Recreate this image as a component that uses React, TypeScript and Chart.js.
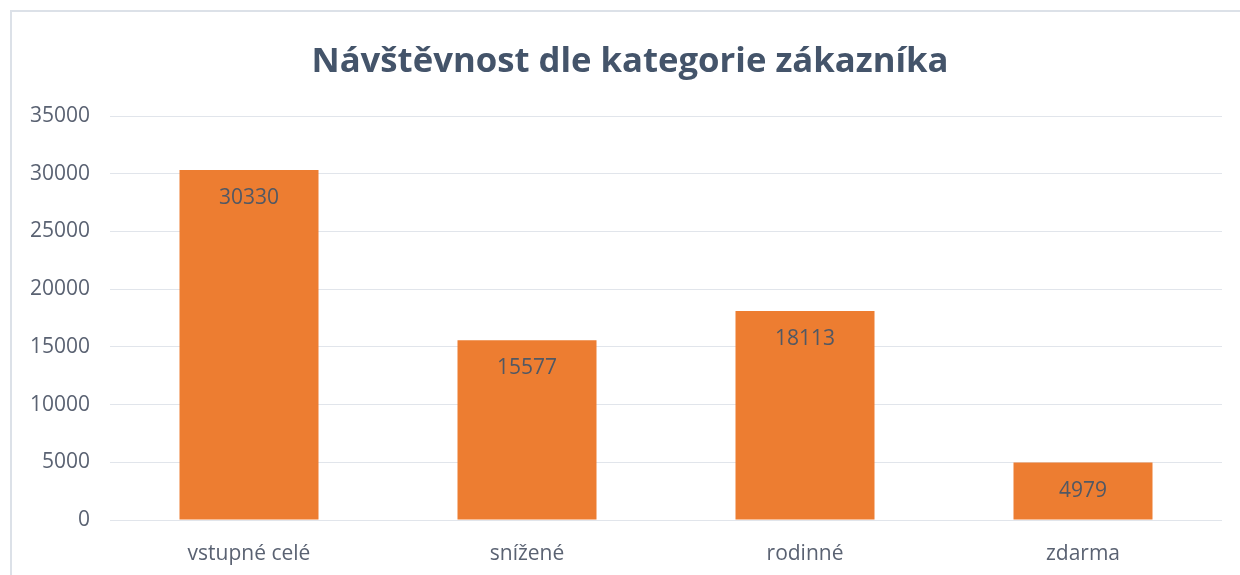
import React, { useEffect, useRef } from "react";
import { Chart, registerables } from "chart.js";

Chart.register(...registerables);

const categories = ["vstupné celé", "snížené", "rodinné", "zdarma"];
const visits = [30330, 15577, 18113, 4979];
const titleText = "Návštěvnost dle kategorie zákazníka";

const FONT = "'Open Sans', Lato, sans-serif";

const barLabels = {
  id: "barLabels",
  afterDatasetsDraw(chart: any) {
    const ctx = chart.ctx;
    const meta = chart.getDatasetMeta(0);
    ctx.save();
    ctx.font = `21px ${FONT}`;
    ctx.fillStyle = "#515864";
    ctx.textAlign = "center";
    ctx.textBaseline = "middle";
    meta.data.forEach((bar: any, i: number) => {
      ctx.fillText(String(chart.data.datasets[0].data[i]), bar.x, bar.y + 28);
    });
    ctx.restore();
  },
};

const titleDraw = {
  id: "titleDraw",
  afterDraw(chart: any) {
    const ctx = chart.ctx;
    ctx.save();
    ctx.font = `bold 34.7px ${FONT}`;
    ctx.fillStyle = "#44546A";
    ctx.textAlign = "center";
    ctx.textBaseline = "alphabetic";
    ctx.fillText(titleText, 630, 72);
    ctx.restore();
  },
};

export default function App() {
  const ref = useRef<HTMLCanvasElement>(null);
  useEffect(() => {
    const chart = new Chart(ref.current!, {
      type: "bar",
      data: {
        labels: categories,
        datasets: [
          {
            data: visits,
            backgroundColor: "#ED7D31",
            borderWidth: 0,
            categoryPercentage: 1,
            barPercentage: 0.5,
          },
        ],
      },
      options: {
        animation: false,
        responsive: false,
        layout: { padding: { left: 0, right: 18, top: 116, bottom: 0 } },
        plugins: {
          legend: { display: false },
          tooltip: { enabled: false },
          title: { display: false },
        },
        scales: {
          x: {
            grid: { display: false, drawTicks: false },
            border: { display: false },
            ticks: {
              color: "#5A6272",
              font: { family: FONT, size: 21 },
              padding: 21,
            },
            afterFit: (s: any) => {
              s.height = 55;
            },
          },
          y: {
            min: 0,
            max: 35000,
            grid: { color: "#E1E5EB", lineWidth: 1, drawTicks: false },
            border: { display: false },
            ticks: {
              stepSize: 5000,
              color: "#5A6272",
              font: { family: FONT, size: 21 },
              padding: 20,
              callback: (v: any) => String(v),
            },
            afterFit: (s: any) => {
              s.width = 110;
            },
          },
        },
      },
      plugins: [barLabels, titleDraw],
    });
    return () => chart.destroy();
  }, []);

  return (
    <div
      style={{
        position: "fixed",
        left: 0,
        top: 0,
        width: 1240,
        height: 575,
        overflow: "hidden",
        background: "#fff",
      }}
    >
      <div
        style={{
          position: "absolute",
          left: 10,
          top: 10,
          width: 1260,
          height: 620,
          border: "2px solid #DCE1E8",
          boxSizing: "border-box",
        }}
      />
      <canvas
        ref={ref}
        width={1240}
        height={575}
        style={{ position: "absolute", left: 0, top: 0 }}
      />
    </div>
  );
}
